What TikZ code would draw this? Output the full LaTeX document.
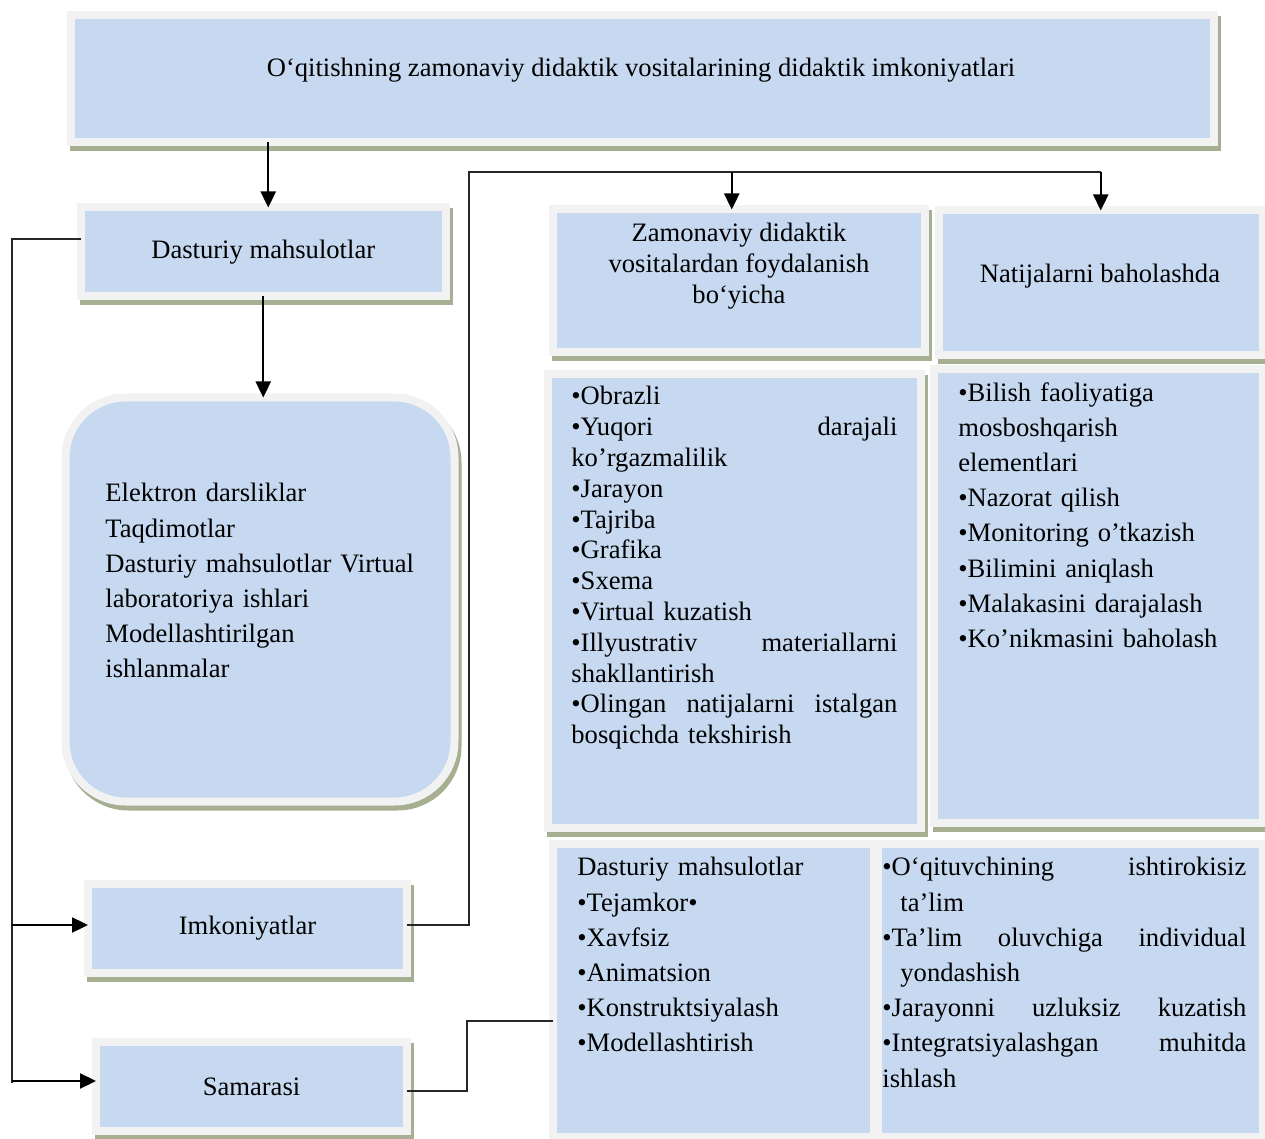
\documentclass[tikz,border=0pt]{standalone}
\usepackage{fontspec}
\setmainfont{Liberation Serif}
\usepackage{xcolor}
\usetikzlibrary{arrows.meta,positioning}

\definecolor{boxBlue}{RGB}{198,217,240}
\definecolor{boxGray}{RGB}{242,242,242}
\definecolor{boxShadow}{RGB}{166,175,145}

\newcommand{\boxfont}{\fontsize{13.3pt}{15.4pt}\selectfont}
\newcommand{\listfont}{\fontsize{13.3pt}{17.6pt}\selectfont}

\begin{document}
\begin{tikzpicture}[x=0.5pt,y=-0.5pt]

\tikzset{blueBox/.style={draw=boxGray, fill=boxBlue, line width=4pt, inner sep=0pt, outer sep=0pt,
   preaction={draw=boxShadow, fill=boxShadow, line width=4pt, transform canvas={xshift=1.5pt,yshift=-2.5pt}}},
listNode/.style={anchor=north west, inner sep=0pt, align=left},
thinLine/.style={line width=0.7pt, black!85},
arrowLine/.style={line width=1.2pt, -{Triangle[length=8pt,width=7.5pt]}}}

\useasboundingbox (0,0) rectangle (1265,1139);
\fill[white] (0,0) rectangle (1265,1139);

%the title
\node[blueBox, minimum width=571.75pt, minimum height=63.75pt] (title) at (642.25,78.75) {};
\node[font=\boxfont] (titletext) at (641,70) {O‘qitishning zamonaviy didaktik vositalarining didaktik imkoniyatlari};

\node[blueBox, minimum width=182.75pt, minimum height=44.5pt, font=\boxfont] (dast) at (263.25,252) {Dasturiy mahsulotlar};

\node[blueBox, minimum width=186.25pt, minimum height=71.5pt] (zam) at (738.75,281) {};
\node[font=\boxfont, align=center, anchor=north, inner sep=0pt] (zamtext) at (739,223) {Zamonaviy didaktik\\vositalardan foydalanish\\bo‘yicha};

\node[blueBox, minimum width=161.75pt, minimum height=72.5pt] (nat) at (1100.75,283) {};
\node[font=\boxfont] (nattext) at (1100,276) {Natijalarni baholashda};

%the lists
\node[blueBox, minimum width=186.5pt, minimum height=226.75pt] (obr) at (734.5,600.75) {};
\node[listNode, text width=163pt, font=\boxfont] (obrtext) at (571,386) {•Obrazli\\ •Yuqori\hfill darajali\\ ko’rgazmalilik\\ •Jarayon\\ •Tajriba\\ •Grafika\\ •Sxema\\ •Virtual kuzatish\\ •Illyustrativ\hfill materiallarni\\ shakllantirish\\ •Olingan\hfill natijalarni\hfill istalgan\\ bosqichda tekshirish};

\node[blueBox, minimum width=164.25pt, minimum height=226.75pt] (bil) at (1098.25,595.75) {};
\node[listNode, text width=150pt, font=\listfont] (biltext) at (958,382) {•Bilish faoliyatiga\\ mosboshqarish\\ elementlari\\ •Nazorat qilish\\ •Monitoring o’tkazish\\ •Bilimini aniqlash\\ •Malakasini darajalash\\ •Ko’nikmasini baholash};

\node[blueBox, minimum width=160.25pt, minimum height=146.5pt] (dlist) at (713.25,990.5) {};
\node[listNode, text width=140pt, font=\listfont] (dlisttext) at (577,857) {Dasturiy mahsulotlar\\ •Tejamkor•\\ •Xavfsiz\\ •Animatsion\\ •Konstruktsiyalash\\ •Modellashtirish};

\node[blueBox, minimum width=192.5pt, minimum height=146.5pt] (bright) at (1070,990.5) {};
\node[listNode, text width=182pt, font=\listfont] (brighttext) at (882,857) {•O‘qituvchining\hfill ishtirokisiz\\ \hspace*{9pt}ta’lim\\ •Ta’lim\hfill oluvchiga\hfill individual\\ \hspace*{9pt}yondashish\\ •Jarayonni\hfill uzluksiz\hfill kuzatish\\ •Integratsiyalashgan\hfill muhitda\\ ishlash};

\node[blueBox, rounded corners=30pt, minimum width=194.5pt, minimum height=202pt] (rnd) at (260,599.5) {};
\node[listNode, text width=170pt, font=\listfont] (rndtext) at (105,483) {Elektron darsliklar\\ Taqdimotlar\\ Dasturiy mahsulotlar Virtual\\ laboratoriya ishlari\\ Modellashtirilgan\\ ishlanmalar};

\node[blueBox, minimum width=159.5pt, minimum height=44.5pt, font=\boxfont] (imk) at (247.5,928.5) {Imkoniyatlar};
\node[blueBox, minimum width=155.5pt, minimum height=44.5pt, font=\boxfont] (sam) at (251.5,1086.5) {Samarasi};

%now the connectors
\coordinate (busL) at (12,239);
\coordinate (busLend) at (12,1083);
\coordinate (busR) at (469,172);
\coordinate (busS) at (467,1021);
\coordinate (imkIn) at ([yshift=1.75pt]imk.west);
\coordinate (samIn) at ([yshift=2.75pt]sam.west);
\coordinate (imkOut) at ([yshift=1.75pt]imk.east);
\coordinate (samOut) at ([yshift=-2.25pt]sam.east);

\draw[arrowLine] ([xshift=2.5pt]dast.north |- title.south) -- ([xshift=2.5pt]dast.north);
\draw[arrowLine] (dast.south) -- (dast.south |- rnd.north);

\draw[thinLine] ([yshift=6.5pt]dast.west) -- (busL) -- (busLend);
\draw[arrowLine] (busL |- imkIn) -- (imkIn);
\draw[arrowLine] (busL |- samIn) -- (samIn);

\draw[thinLine] (imkOut) -| (busR) -- (busR -| nat.north);
\draw[arrowLine] ([xshift=-3.5pt]zam.north |- busR) -- ([xshift=-3.5pt]zam.north);
\draw[arrowLine] (nat.north |- busR) -- (nat.north);

\draw[thinLine] (samOut) -| (busS) -- (busS -| dlist.west);

\end{tikzpicture}
\end{document}
